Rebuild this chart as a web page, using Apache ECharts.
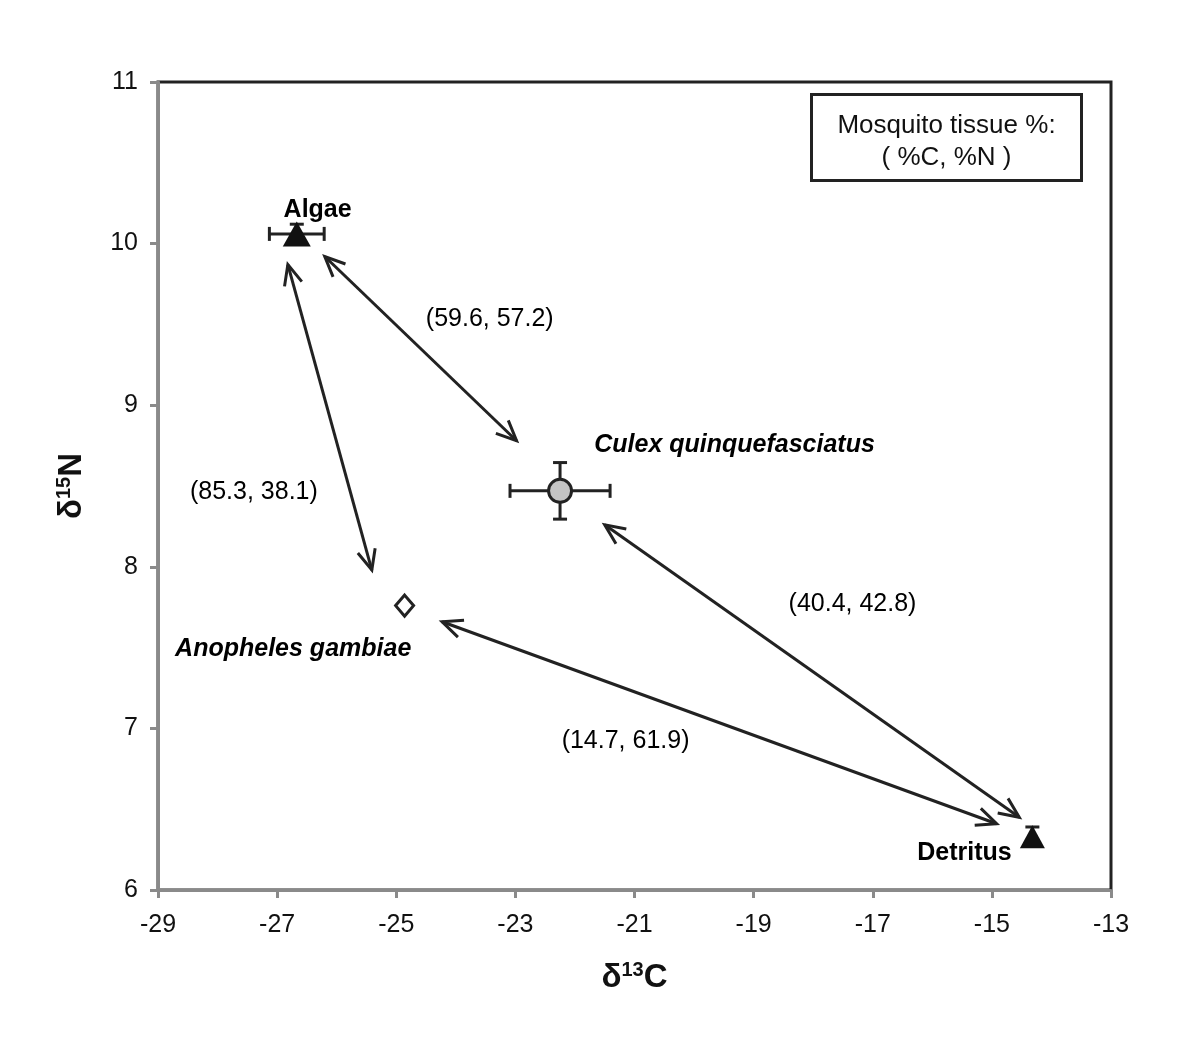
<!DOCTYPE html>
<html>
<head>
<meta charset="utf-8">
<title>Mosquito isotopes</title>
<script src="https://cdn.jsdelivr.net/npm/echarts@6/dist/echarts.min.js"></script>
<style>
  html, body { margin: 0; padding: 0; background: #fff; }
  #chart { width: 1200px; height: 1053px; }
</style>
</head>
<body>
<div id="chart"></div>
<script>
// sample means and error bars
const species = ['Algae', 'Culex quinquefasciatus', 'Anopheles gambiae', 'Detritus'];
const d13C = [-26.67, -22.25, -24.86, -14.32];
const d15N = [10.06, 8.47, 7.76, 6.33];
const errC = [0.46, 0.84, 0, 0];
const errN = [0.06, 0.175, 0, 0.06];

// double arrows between sources and mosquitoes
const arrowFrom = [[-26.2, 9.92], [-26.82, 9.87], [-21.5, 8.26], [-24.23, 7.66]];
const arrowTo = [[-22.98, 8.78], [-25.41, 7.98], [-14.54, 6.45], [-14.92, 6.41]];
const tissueLabels = ['(59.6, 57.2)', '(85.3, 38.1)', '(40.4, 42.8)', '(14.7, 61.9)'];
const tissueLabelAt = [[-23.43, 9.53], [-27.39, 8.46], [-17.34, 7.77], [-21.15, 6.92]];
const speciesLabelAt = [[-26.32, 10.21], [-19.32, 8.75], [-26.73, 7.49], [-15.46, 6.23]];

const ink = '#222';
const axisGray = '#8a8a8a';
const font = 'Liberation Sans, Arial, sans-serif';

let chart = echarts.init(document.getElementById('chart'));

function arrowHeads (tip, from, len, ang) {
  let dx = from[0] - tip[0], dy = from[1] - tip[1];
  let a = Math.atan2(dy, dx);
  return [
    [tip[0] + len * Math.cos(a + ang), tip[1] + len * Math.sin(a + ang)],
    tip,
    [tip[0] + len * Math.cos(a - ang), tip[1] + len * Math.sin(a - ang)]
  ];
}

const markerStyle = [
  { symbol: 'triangle', symbolSize: [28, 25], color: '#111', borderColor: '#111', borderWidth: 0 },
  { symbol: 'circle', symbolSize: 23, color: '#c4c4c4', borderColor: ink, borderWidth: 3 },
  { symbol: 'diamond', symbolSize: [18, 21], color: '#fff', borderColor: ink, borderWidth: 3 },
  { symbol: 'triangle', symbolSize: [25, 23], color: '#111', borderColor: '#111', borderWidth: 0 }
];

const nameRich = {
  d: { fontSize: 33, fontWeight: 'bold', fontFamily: font, color: '#111', lineHeight: 36 },
  s: { fontSize: 20, fontWeight: 'bold', fontFamily: font, color: '#111', verticalAlign: 'top', lineHeight: 36 }
};

chart.setOption({
  animation: false,
  backgroundColor: '#fff',
  grid: {
    left: 158, right: 89, top: 82, bottom: 163,
    show: true, borderColor: ink, borderWidth: 3, backgroundColor: 'transparent'
  },
  xAxis: {
    type: 'value', min: -29, max: -13, interval: 2,
    splitLine: { show: false },
    axisLine: { lineStyle: { color: axisGray, width: 3 } },
    axisTick: { length: 8, lineStyle: { color: axisGray, width: 3 } },
    axisLabel: { color: '#111', fontSize: 25, fontFamily: font, margin: 23 },
    name: '{d|δ}{s|13}{d|C}',
    nameLocation: 'middle', nameGap: 70,
    nameTextStyle: { rich: nameRich }
  },
  yAxis: {
    type: 'value', min: 6, max: 11, interval: 1,
    splitLine: { show: false },
    axisLine: { lineStyle: { color: axisGray, width: 3 } },
    axisTick: { length: 8, lineStyle: { color: axisGray, width: 3 } },
    axisLabel: { color: '#111', fontSize: 25, fontFamily: font, margin: 20 },
    name: '{d|δ}{s|15}{d|N}',
    nameLocation: 'middle', nameGap: 68, nameRotate: 90,
    nameTextStyle: { rich: nameRich }
  },
  graphic: [{
    type: 'group', left: 810, top: 93,
    children: [
      { type: 'rect', shape: { x: 0, y: 0, width: 270, height: 86 },
        style: { fill: '#fff', stroke: ink, lineWidth: 3 } },
      { type: 'text', x: 135, y: 47,
        style: { text: 'Mosquito tissue %:\n( %C, %N )', align: 'center', verticalAlign: 'middle',
          fontSize: 26, fontFamily: font, fill: '#111', lineHeight: 32 } }
    ]
  }],
  series: [
    {
      // arrows
      type: 'custom',
      silent: true,
      z: 2,
      data: arrowFrom.map((p, i) => [p[0], p[1], arrowTo[i][0], arrowTo[i][1]]),
      renderItem: function (params, api) {
        let a = api.coord([api.value(0), api.value(1)]);
        let b = api.coord([api.value(2), api.value(3)]);
        let s = { stroke: ink, lineWidth: 3, fill: null, lineJoin: 'miter' };
        return {
          type: 'group',
          children: [
            { type: 'line', shape: { x1: a[0], y1: a[1], x2: b[0], y2: b[1] }, style: s },
            { type: 'polyline', shape: { points: arrowHeads(a, b, 22, 0.42) }, style: s },
            { type: 'polyline', shape: { points: arrowHeads(b, a, 22, 0.42) }, style: s }
          ]
        };
      }
    },
    {
      // error bars
      type: 'custom',
      silent: true,
      z: 3,
      data: d13C.map((x, i) => [x, d15N[i], errC[i], errN[i]]),
      renderItem: function (params, api) {
        let x = api.value(0), y = api.value(1), ex = api.value(2), ey = api.value(3);
        let s = { stroke: ink, lineWidth: 3 };
        let kids = [];
        let cap = 7;
        if (ex > 0) {
          let l = api.coord([x - ex, y]), r = api.coord([x + ex, y]);
          kids.push({ type: 'line', shape: { x1: l[0], y1: l[1], x2: r[0], y2: r[1] }, style: s });
          kids.push({ type: 'line', shape: { x1: l[0], y1: l[1] - cap, x2: l[0], y2: l[1] + cap }, style: s });
          kids.push({ type: 'line', shape: { x1: r[0], y1: r[1] - cap, x2: r[0], y2: r[1] + cap }, style: s });
        }
        if (ey > 0) {
          let t = api.coord([x, y + ey]), b = api.coord([x, y - ey]);
          kids.push({ type: 'line', shape: { x1: t[0], y1: t[1], x2: b[0], y2: b[1] }, style: s });
          kids.push({ type: 'line', shape: { x1: t[0] - cap, y1: t[1], x2: t[0] + cap, y2: t[1] }, style: s });
          kids.push({ type: 'line', shape: { x1: b[0] - cap, y1: b[1], x2: b[0] + cap, y2: b[1] }, style: s });
        }
        return { type: 'group', children: kids };
      }
    },
    {
      type: 'scatter',
      z: 4,
      silent: true,
      data: d13C.map((x, i) => ({
        value: [x, d15N[i]],
        symbol: markerStyle[i].symbol,
        symbolSize: markerStyle[i].symbolSize,
        itemStyle: { color: markerStyle[i].color, borderColor: markerStyle[i].borderColor, borderWidth: markerStyle[i].borderWidth, opacity: 1 }
      }))
    },
    {
      // species names
      type: 'scatter',
      z: 5,
      silent: true,
      symbolSize: 0,
      itemStyle: { opacity: 1 },
      data: speciesLabelAt.map((p, i) => ({
        value: p,
        label: {
          show: true, position: 'inside', formatter: species[i],
          fontSize: 25, fontWeight: 'bold', fontFamily: font, color: '#000',
          fontStyle: (i === 1 || i === 2) ? 'italic' : 'normal'
        }
      }))
    },
    {
      // tissue % labels
      type: 'scatter',
      z: 5,
      silent: true,
      symbolSize: 0,
      itemStyle: { opacity: 1 },
      data: tissueLabelAt.map((p, i) => ({
        value: p,
        label: {
          show: true, position: 'inside', formatter: tissueLabels[i],
          fontSize: 25, fontFamily: font, color: '#000'
        }
      }))
    }
  ]
});
</script>
</body>
</html>
